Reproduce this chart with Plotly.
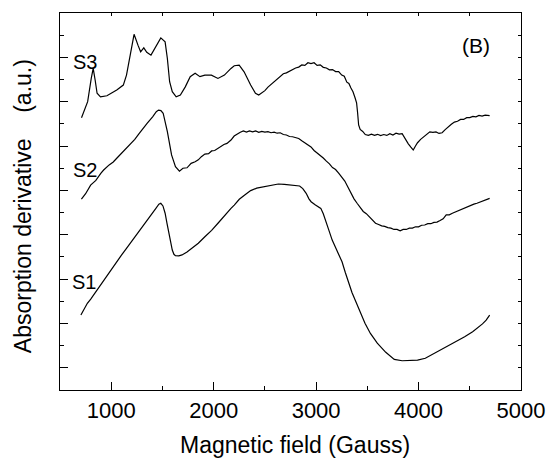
import plotly.graph_objects as go

# EPR derivative spectra of samples S1-S3 (vertically offset, arbitrary units)
s3_field = [710, 770, 805, 824, 843, 862, 895, 958, 1054, 1118, 1149, 1182, 1223, 1261, 1287,
            1318, 1347, 1388, 1436, 1484, 1526, 1548, 1570, 1596, 1634, 1675, 1723, 1771, 1819,
            1866, 1914, 1978, 2042, 2105, 2169, 2201, 2249, 2297, 2361, 2408, 2440,
            2470, 2500, 2530, 2560, 2590, 2620, 2650, 2680, 2710, 2740, 2770, 2800, 2830, 2860,
            2890, 2920, 2950, 2980, 3010, 3040, 3070, 3100, 3130, 3160, 3190, 3220, 3250, 3275,
            3300, 3320, 3340, 3360, 3380, 3395, 3405, 3415, 3430, 3455, 3480, 3510, 3540, 3570,
            3600, 3630, 3660, 3690, 3720, 3750, 3780, 3810, 3840, 3870, 3900, 3925, 3948, 3970,
            3990, 4020, 4050, 4080, 4110, 4140, 4170, 4200, 4230, 4260, 4290, 4320, 4350, 4380,
            4410, 4440, 4470, 4500, 4530, 4560, 4590, 4620, 4650, 4694]
s3_signal = [12.28, 13.00, 14.05, 14.50, 13.98, 13.38, 13.22, 13.27, 13.53, 13.75, 14.20, 15.10,
             16.04, 15.55, 15.25, 15.43, 15.23, 15.10, 15.48, 15.88, 15.70, 14.95, 13.90, 13.45,
             13.22, 13.30, 13.67, 14.13, 14.28, 14.13, 14.20, 14.20, 14.05, 14.20, 14.50, 14.62,
             14.65, 14.35, 13.75, 13.38, 13.30,
             13.40, 13.50, 13.66, 13.78, 13.92, 14.02, 14.16, 14.26, 14.30, 14.38, 14.44, 14.52,
             14.56, 14.66, 14.64, 14.76, 14.72, 14.76, 14.64, 14.66, 14.55, 14.52, 14.44, 14.45,
             14.36, 14.36, 14.20, 14.15, 13.88, 13.82, 13.62, 13.45, 13.18, 12.95, 12.50, 11.95,
             11.75, 11.66, 11.52, 11.48, 11.54, 11.48, 11.53, 11.47, 11.52, 11.48, 11.56, 11.50,
             11.58, 11.54, 11.56, 11.32, 11.10, 10.95, 10.82, 11.00, 11.15, 11.30, 11.42, 11.55,
             11.64, 11.62, 11.64, 11.57, 11.60, 11.74, 11.88, 11.98, 12.08, 12.12, 12.20, 12.20,
             12.28, 12.28, 12.34, 12.32, 12.38, 12.35, 12.39, 12.37]

s2_field = [709, 750, 799, 850, 900, 926, 980, 1020, 1054, 1100, 1140, 1182, 1230, 1270, 1309,
            1350, 1404, 1440, 1462, 1485, 1507, 1548, 1589, 1627, 1666, 1700, 1740, 1780, 1819,
            1850, 1880, 1914, 1950, 1980, 2010, 2042, 2070, 2100, 2130, 2169, 2200, 2230, 2260,
            2290, 2320, 2350, 2380, 2410, 2440, 2470, 2500, 2530, 2560, 2590, 2620, 2650, 2680,
            2710, 2740, 2770, 2800, 2830, 2860, 2890, 2920, 2950, 2980, 3010, 3040, 3070, 3100,
            3130, 3160, 3190, 3220, 3250, 3280, 3310, 3340, 3370, 3400, 3430, 3460, 3490, 3520,
            3550, 3580, 3610, 3640, 3670, 3700, 3730, 3760, 3790, 3820, 3850, 3880, 3910, 3940,
            3970, 4000, 4030, 4060, 4090, 4120, 4150, 4180, 4210, 4240, 4270, 4300, 4330, 4360,
            4390, 4420, 4450, 4480, 4510, 4540, 4570, 4600, 4630, 4660, 4694]
s2_signal = [8.61, 8.85, 9.24, 9.45, 9.78, 9.92, 10.15, 10.28, 10.45, 10.68, 10.85, 11.05, 11.30,
             11.55, 11.80, 12.02, 12.32, 12.55, 12.62, 12.60, 12.48, 11.65, 10.60, 10.07, 9.87,
             10.00, 10.02, 10.22, 10.29, 10.38, 10.52, 10.64, 10.66, 10.78, 10.80, 10.90, 10.96,
             11.07, 11.12, 11.27, 11.45, 11.55, 11.62, 11.68, 11.63, 11.68, 11.64, 11.68, 11.62,
             11.66, 11.63, 11.65, 11.60, 11.63, 11.58, 11.60, 11.52, 11.50, 11.43, 11.42, 11.37,
             11.34, 11.24, 11.15, 11.05, 10.96, 10.80, 10.70, 10.57, 10.46, 10.32, 10.20, 10.03,
             9.94, 9.78, 9.62, 9.42, 9.15, 8.85, 8.62, 8.42, 8.25, 8.05, 7.95, 7.80, 7.66, 7.52,
             7.46, 7.40, 7.38, 7.32, 7.30, 7.24, 7.24, 7.18, 7.24, 7.24, 7.30, 7.30, 7.36, 7.36,
             7.43, 7.44, 7.50, 7.50, 7.56, 7.57, 7.64, 7.72, 7.90, 7.90, 7.97, 8.03, 8.10, 8.15,
             8.22, 8.25, 8.32, 8.38, 8.42, 8.48, 8.52, 8.58, 8.64]

s1_field = [704, 730, 767, 800, 830, 862, 900, 930, 958, 1000, 1054, 1100, 1149, 1200, 1245,
            1290, 1340, 1390, 1436, 1465, 1484, 1505, 1526, 1545, 1564, 1580, 1596, 1612, 1627,
            1660, 1691, 1740, 1787, 1850, 1914, 1980, 2042, 2100, 2169, 2201, 2250, 2300, 2361,
            2420, 2488, 2560, 2631, 2690, 2743, 2800, 2839, 2870, 2903, 2930, 2951, 2990, 3046,
            3070, 3094, 3125, 3157, 3205, 3253, 3285, 3317, 3350, 3381, 3430, 3477, 3530, 3597,
            3680, 3763, 3840, 3922, 3990, 4066, 4140, 4209, 4290, 4369, 4450, 4528, 4580, 4624,
            4660, 4694]
s1_signal = [3.38, 3.60, 3.91, 4.10, 4.30, 4.51, 4.78, 4.98, 5.18, 5.42, 5.78, 6.08, 6.39, 6.70,
             6.99, 7.28, 7.59, 7.90, 8.19, 8.38, 8.42, 8.30, 7.97, 7.50, 7.07, 6.62, 6.31, 6.12,
             6.06, 6.05, 6.09, 6.22, 6.39, 6.62, 6.91, 7.20, 7.52, 7.85, 8.19, 8.34, 8.60, 8.78,
             8.99, 9.10, 9.17, 9.25, 9.29, 9.27, 9.24, 9.22, 9.20, 9.08, 8.87, 8.62, 8.49, 8.35,
             8.19, 7.95, 7.66, 7.20, 6.76, 6.28, 5.78, 5.30, 4.81, 4.40, 4.06, 3.50, 3.01, 2.55,
             2.11, 1.70, 1.38, 1.32, 1.32, 1.35, 1.43, 1.62, 1.80, 2.00, 2.18, 2.40, 2.63, 2.80,
             2.98, 3.15, 3.38]

sample_labels = ["S1", "S2", "S3"]
label_field = [735, 740, 740]
label_signal = [4.89, 9.92, 14.81]

x_range = [500, 5000]
y_range = [0, 17]

FONT = "Arial, Liberation Sans, sans-serif"
LINE = dict(color="black", width=1.2)

fig = go.Figure()
for fld, sig, name in [(s1_field, s1_signal, "S1"), (s2_field, s2_signal, "S2"),
                       (s3_field, s3_signal, "S3")]:
    fig.add_trace(go.Scatter(x=fld, y=sig, mode="lines", name=name, line=LINE,
                             showlegend=False, hoverinfo="skip"))

# empty trace so the top/right frame axes get drawn
fig.add_trace(go.Scatter(x=[], y=[], xaxis="x2", yaxis="y2", showlegend=False))

for txt, fx, sy in zip(sample_labels, label_field, label_signal):
    fig.add_annotation(x=fx, y=sy, text=txt, showarrow=False,
                       font=dict(family=FONT, size=20, color="black"),
                       xanchor="center", yanchor="middle")

fig.add_annotation(x=4560, y=15.55, text="(B)", showarrow=False,
                   font=dict(family=FONT, size=21, color="black"),
                   xanchor="center", yanchor="middle")

fig.add_annotation(x=0.51, y=-0.146, xref="paper", yref="paper",
                   text="Magnetic field (Gauss)", showarrow=False,
                   font=dict(family=FONT, size=23, color="black"),
                   xanchor="center", yanchor="middle")
fig.add_annotation(x=-0.08, y=0.488, xref="paper", yref="paper",
                   text="Absorption derivative\u00a0\u00a0\u00a0\u00a0(a.u.)", textangle=-90,
                   showarrow=False, font=dict(family=FONT, size=23, color="black"),
                   xanchor="center", yanchor="middle")

axis_common = dict(showgrid=False, zeroline=False, showline=True, linecolor="black",
                   linewidth=1.3, ticks="inside", tickcolor="black", tickwidth=1.2)

fig.update_layout(
    width=557, height=460,
    margin=dict(l=60, r=26, t=13, b=70),
    paper_bgcolor="white", plot_bgcolor="white",
    font=dict(family=FONT, size=22, color="black"),
    xaxis=dict(range=x_range, tick0=0, dtick=1000, ticklen=8,
               minor=dict(ticks="inside", dtick=500, ticklen=4, tickcolor="black",
                          tickwidth=1.2),
               tickfont=dict(family=FONT, size=22, color="black"), **axis_common),
    yaxis=dict(range=y_range, tick0=1, dtick=2, ticklen=8, showticklabels=False,
               minor=dict(ticks="inside", dtick=1, ticklen=4, tickcolor="black",
                          tickwidth=1.2),
               **axis_common),
    xaxis2=dict(range=x_range, overlaying="x", side="top", tick0=0, dtick=500, ticklen=3,
                showticklabels=False, **axis_common),
    yaxis2=dict(range=y_range, overlaying="y", side="right", tick0=0, dtick=1, ticklen=3,
                showticklabels=False, **axis_common),
)

fig.write_html("out.html")
